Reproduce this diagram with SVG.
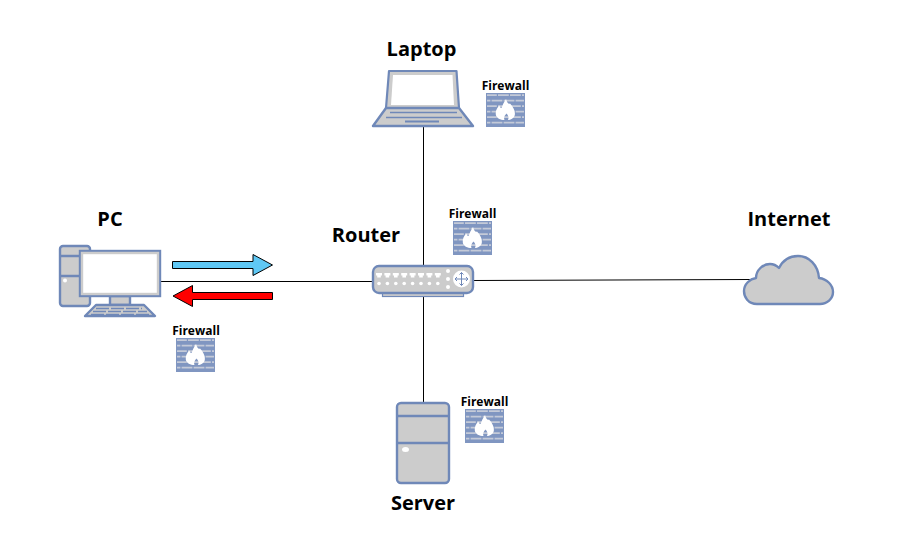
<svg xmlns="http://www.w3.org/2000/svg" width="898" height="552" viewBox="0 0 898 552">
<style>
.shape{fill:#cccccc;stroke:#6f88b8;stroke-width:2.4;stroke-linejoin:round}
.bar{fill:none;stroke:#6f88b8;stroke-width:2.4}
.wire{stroke:#000;stroke-width:1;fill:none}
.label{font-family:"Open Sans","Noto Sans",sans-serif;font-weight:700;font-size:20px;fill:#000;text-anchor:middle}
.fwtext{font-family:"Open Sans","Noto Sans",sans-serif;font-weight:700;font-size:12px;fill:#000;text-anchor:middle}
.dot{fill:#fff}
</style>
<defs>
<pattern id="bricks" width="12" height="11" patternUnits="userSpaceOnUse">
<path d="M0 2.200H10.800M0 7.700H4.400M5.600 7.700H12" stroke="#c4cad8" stroke-width="1.700" fill="none"/>
</pattern>
<g id="firewall">
<rect x="0" y="0" width="39" height="34" fill="#8096c1"/>
<rect x="1" y="1" width="37" height="32" fill="url(#bricks)"/>
<path d="M20 6C21 9.500 22.500 11.500 24 10.500C27 13.500 29.500 18 28.800 22C28 25.500 24.500 27 22 27C23 25 22.500 22.500 20.500 20.500C18.500 22.500 17.500 25 18.500 27C14.500 27 10.500 25.500 9.800 21.500C9.300 18 11 14.500 13.500 12.500C13.700 14 14.300 15 15.500 15C16.500 12 18 9 20 6Z" fill="#fff"/>
</g>
<path id="port" class="dot" d="M0 0h6v2.500h-1.200v2h-3.600v-2h-1.200z"/>
</defs>

<g id="connectors">
<line class="wire" x1="161" y1="281.500" x2="374" y2="281.500"/>
<line class="wire" x1="423.500" y1="127" x2="423.500" y2="266"/>
<line class="wire" x1="423.500" y1="295" x2="423.500" y2="403"/>
<line class="wire" x1="473" y1="280.500" x2="750" y2="279.500"/>
</g>

<g id="arrow-out">
<path d="M172.500 261.500H253V254.500L272.500 265L253 275.500V268.500H172.500Z" fill="#5fc8f5" stroke="#000" stroke-width="1"/>
</g>
<g id="arrow-in">
<path d="M272.500 292.500H192.500V285.500L173 296L192.500 306.500V299.500H272.500Z" fill="#ff0000" stroke="#000" stroke-width="1"/>
</g>

<g id="pc">
<rect class="shape" x="60" y="246" width="30" height="60" rx="3"/>
<path class="bar" d="M60 256H80M60 276H80"/>
<circle class="dot" cx="65" cy="280.500" r="2"/>
<rect class="shape" x="110" y="296" width="20" height="9" stroke-width="1.500"/>
<rect x="80" y="251" width="80" height="45" fill="#fff" stroke="#6f88b8" stroke-width="2.400"/>
<rect x="82" y="253" width="76" height="41" fill="none" stroke="#cccccc" stroke-width="2.400"/>
<path class="shape" d="M96 305H144L155 316H85Z" stroke-width="1.600"/>
<path d="M96 308.500H142M93 311.500H147M91 314.500H150" stroke="#6f88b8" stroke-width="1.300" fill="none" stroke-dasharray="13 2"/>
<text class="label" x="110" y="226">PC</text>
</g>

<g id="fw-pc">
<text class="fwtext" x="196" y="335">Firewall</text>
<use href="#firewall" x="176" y="338"/>
</g>

<g id="laptop">
<path d="M389 71H456.500L459 108H386Z" fill="#cccccc" stroke="#6f88b8" stroke-width="2.200" stroke-linejoin="round"/>
<path d="M393 75H452.500L454 105H391Z" fill="#fff"/>
<path class="shape" d="M386 108H459L473 126H373Z" stroke-width="1.800"/>
<path d="M390 112.500H457M386 117.500H462" stroke="#6f88b8" stroke-width="1.600" fill="none"/>
<path d="M405 121.500H439" stroke="#6f88b8" stroke-width="2" fill="none"/>
<text class="label" x="421.500" y="56">Laptop</text>
</g>

<g id="fw-laptop">
<text class="fwtext" x="505.500" y="90">Firewall</text>
<use href="#firewall" x="486" y="93"/>
</g>

<g id="router">
<rect x="382.500" y="290" width="81" height="6.500" fill="#cccccc" stroke="#6f88b8" stroke-width="1.200"/>
<rect class="shape" x="373" y="266" width="100" height="27" rx="6"/>
<use href="#port" x="376" y="273"/><use href="#port" x="384.400" y="273"/><use href="#port" x="392.800" y="273"/><use href="#port" x="401.200" y="273"/><use href="#port" x="409.600" y="273"/><use href="#port" x="418" y="273"/><use href="#port" x="426.400" y="273"/><use href="#port" x="434.800" y="273"/>
<g class="dot">
<circle cx="379" cy="283.500" r="1.800"/><circle cx="387.400" cy="283.500" r="1.800"/><circle cx="395.800" cy="283.500" r="1.800"/><circle cx="404.200" cy="283.500" r="1.800"/><circle cx="412.600" cy="283.500" r="1.800"/><circle cx="421" cy="283.500" r="1.800"/><circle cx="429.400" cy="283.500" r="1.800"/><circle cx="437.800" cy="283.500" r="1.800"/>
<circle cx="448" cy="271" r="2"/><circle cx="448" cy="279" r="2"/><circle cx="448" cy="287" r="2"/>
<circle cx="461.500" cy="279" r="8.500"/>
</g>
<path d="M461.500 272.500V285.500M455 279H468M459.500 274.500L461.500 272.500L463.500 274.500M459.500 283.500L461.500 285.500L463.500 283.500M457 277L455 279L457 281M466 277L468 279L466 281" stroke="#6f88b8" stroke-width="1" fill="none"/>
<text class="label" x="366" y="242">Router</text>
</g>

<g id="fw-router">
<text class="fwtext" x="472.500" y="218">Firewall</text>
<use href="#firewall" x="453" y="221"/>
</g>

<g id="server">
<rect class="shape" x="397" y="403" width="52" height="80" rx="4"/>
<path class="bar" d="M397 416H449M397 443H449"/>
<ellipse class="dot" cx="405.500" cy="449.500" rx="3.500" ry="2.500"/>
<text class="label" x="423" y="510">Server</text>
</g>

<g id="fw-server">
<text class="fwtext" x="484.500" y="406">Firewall</text>
<use href="#firewall" x="465" y="409"/>
</g>

<g id="internet">
<path class="shape" d="M757 304C748 304 744 297 744 291C744 284 750 279 756 278C756 270 763 264 770 264C774 264 777 266 779 268C783 260 790 256 798 256C809 256 818 265 819 278C827 279 833 285 833 292C833 299 827 304 820 304Z"/>
<text class="label" x="789" y="226">Internet</text>
</g>
</svg>
